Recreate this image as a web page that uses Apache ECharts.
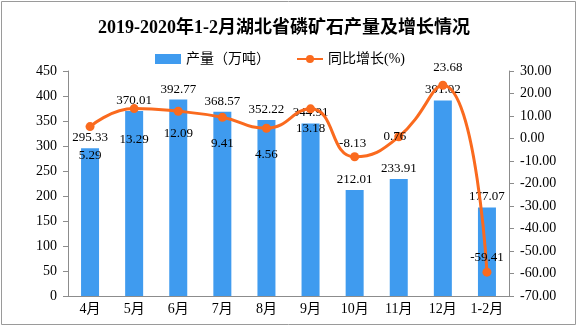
<!DOCTYPE html>
<html>
<head>
<meta charset="utf-8">
<script src="https://cdn.jsdelivr.net/npm/echarts@6/dist/echarts.min.js"></script>
<style>
  html, body { margin: 0; padding: 0; background: #fff; }
  #chart { width: 577px; height: 327px; }
</style>
</head>
<body>
<div id="chart"></div>
<script>
// Monthly output of phosphate rock in Hubei and year-on-year growth
var categories = ['4月', '5月', '6月', '7月', '8月', '9月', '10月', '11月', '12月', '1-2月'];
var output = [295.33, 370.01, 392.77, 368.57, 352.22, 344.91, 212.01, 233.91, 391.02, 177.07];
var growth = [5.29, 13.29, 12.09, 9.41, 4.56, 13.18, -8.13, 0.76, 23.68, -59.41];
var leftTicks = { min: 0, max: 450, interval: 50 };
var rightTicks = { min: -70, max: 30, interval: 10 };

// vertical offsets for growth labels so they clear the bars and the curve
var growthLabelDy = [29, 31, 22, 26, 26, 20, -13, 0, -18, -15];
var growthLabelDx = [0, 0, 0, 0, 0, 0, -2, -4, 5, 0];

var serifFont = '"Liberation Serif", "Noto Sans CJK SC", serif';
var blue = '#3F9BEF';
var orange = '#FA6A1E';
var axisColor = '#8c8c8c';

var chart = echarts.init(document.getElementById('chart'));
chart.setOption({
  animation: false,
  title: {
    text: '2019-2020年1-2月湖北省磷矿石产量及增长情况',
    left: 93,
    top: 14,
    textStyle: { fontFamily: serifFont, fontSize: 18, fontWeight: 'bold', color: '#000' }
  },
  legend: {
    top: 47,
    left: 150,
    itemGap: 26,
    itemWidth: 26,
    itemHeight: 10,
    textStyle: { fontFamily: serifFont, fontSize: 14, color: '#000' },
    data: [
      { name: '产量（万吨）', icon: 'rect' },
      { name: '同比增长(%)' }
    ]
  },
  grid: { left: 68, right: 68, top: 71, bottom: 31 },
  xAxis: {
    type: 'category',
    data: categories,
    axisLine: { lineStyle: { color: axisColor } },
    axisTick: { alignWithLabel: false, length: 5, lineStyle: { color: axisColor } },
    axisLabel: { color: '#000', fontFamily: serifFont, fontSize: 14, margin: 6 }
  },
  yAxis: [
    {
      type: 'value',
      min: leftTicks.min, max: leftTicks.max, interval: leftTicks.interval,
      splitLine: { show: false },
      axisLine: { show: true, lineStyle: { color: axisColor } },
      axisTick: { show: true, length: 5, lineStyle: { color: axisColor } },
      axisLabel: { color: '#000', fontFamily: serifFont, fontSize: 14, margin: 11 }
    },
    {
      type: 'value',
      min: rightTicks.min, max: rightTicks.max, interval: rightTicks.interval,
      splitLine: { show: false },
      axisLine: { show: true, lineStyle: { color: axisColor } },
      axisTick: { show: true, length: 5, lineStyle: { color: axisColor } },
      axisLabel: {
        color: '#000', fontFamily: serifFont, fontSize: 14, margin: 11,
        formatter: function (v) { return v.toFixed(2); }
      }
    }
  ],
  series: [
    {
      name: '产量（万吨）',
      type: 'bar',
      data: output,
      barWidth: 18,
      itemStyle: { color: blue },
      label: {
        show: true, position: 'top', distance: 4,
        color: '#000', fontFamily: serifFont, fontSize: 13,
        formatter: function (p) { return p.value.toFixed(2); }
      }
    },
    {
      name: '同比增长(%)',
      type: 'line',
      yAxisIndex: 1,
      smooth: 0.5,
      symbol: 'circle',
      symbolSize: 9,
      z: 5,
      lineStyle: { color: orange, width: 3 },
      itemStyle: { color: orange },
      data: growth.map(function (v, i) {
        return {
          value: v,
          label: { offset: [growthLabelDx[i], growthLabelDy[i]] }
        };
      }),
      label: {
        show: true, position: 'inside',
        color: '#000', fontFamily: serifFont, fontSize: 13,
        formatter: function (p) { return p.value.toFixed(2); }
      }
    }
  ],
  graphic: [
    {
      type: 'rect',
      shape: { x: 1.5, y: 1.5, width: 574, height: 323 },
      style: { fill: 'none', stroke: '#9a9a9a', lineWidth: 1 },
      silent: true
    }
  ]
});
</script>
</body>
</html>
